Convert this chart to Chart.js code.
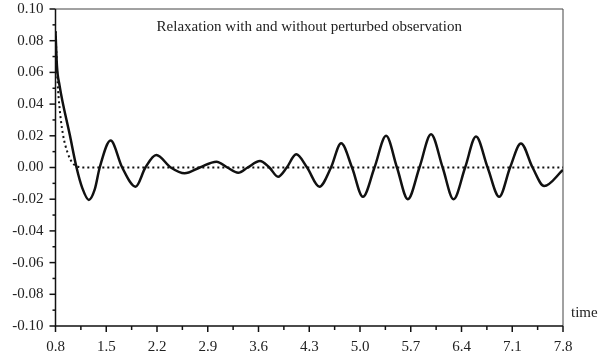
<!DOCTYPE html>
<html>
<head>
<meta charset="utf-8">
<script src="https://cdn.jsdelivr.net/npm/chart.js@4.4.0/dist/chart.umd.min.js"></script>
<style>
  html, body { margin: 0; padding: 0; background: #fff; }
</style>
</head>
<body>
<canvas id="myChart" width="606" height="358"></canvas>
<script>
// solid: relaxation with perturbed observation
const solidT = [0.80, 0.82, 0.855, 1.00, 1.09, 1.17, 1.26, 1.34, 1.41, 1.56, 1.72, 1.905, 2.04, 2.19, 2.39, 2.58, 2.79, 3.02, 3.17, 3.32, 3.45, 3.62, 3.75, 3.87, 3.99, 4.12, 4.27, 4.44, 4.60, 4.74, 4.89, 5.04, 5.20, 5.36, 5.51, 5.66, 5.82, 5.98, 6.14, 6.29, 6.45, 6.60, 6.76, 6.92, 7.07, 7.22, 7.38, 7.54, 7.80];
const solidV = [0.086, 0.064, 0.052, 0.020, 0.000, -0.013, -0.0205, -0.014, 0.000, 0.017, 0.000, -0.0121, 0.000, 0.0079, 0.000, -0.0037, 0.000, 0.0037, 0.000, -0.0033, 0.000, 0.0041, 0.000, -0.0058, 0.000, 0.0083, 0.000, -0.0121, 0.000, 0.0153, 0.000, -0.0185, 0.000, 0.020, 0.000, -0.020, 0.000, 0.021, 0.000, -0.020, 0.000, 0.0195, 0.000, -0.0185, 0.000, 0.0152, 0.000, -0.0117, -0.0015];

// dotted: relaxation without perturbation
const dotT = [0.80, 0.83, 0.855, 0.90, 0.97, 1.04, 1.11, 1.20, 7.80];
const dotV = [0.086, 0.053, 0.038, 0.0216, 0.0089, 0.0026, 0.0005, 0, 0];

const xTicks = [0.8, 1.5, 2.2, 2.9, 3.6, 4.3, 5.0, 5.7, 6.4, 7.1, 7.8];
const yTicks = [-0.10, -0.08, -0.06, -0.04, -0.02, 0.00, 0.02, 0.04, 0.06, 0.08, 0.10];

const titleText = 'Relaxation with and without perturbed observation';
const xAxisName = 'time';

const serif = '"Liberation Serif", "DejaVu Serif", serif';

// axes, minor ticks, box
const axesPlugin = {
  id: 'axesPlugin',
  beforeDatasetsDraw(chart) {
    const ctx = chart.ctx;
    const a = chart.chartArea;
    const xs = chart.scales.x, ys = chart.scales.y;
    ctx.save();
    // thin box top/right
    ctx.strokeStyle = '#444';
    ctx.lineWidth = 1;
    ctx.beginPath();
    ctx.moveTo(a.left, a.top);
    ctx.lineTo(a.right, a.top);
    ctx.lineTo(a.right, a.bottom);
    ctx.stroke();
    // main axes
    ctx.strokeStyle = '#111';
    ctx.lineWidth = 1.5;
    ctx.beginPath();
    ctx.moveTo(a.left, a.top);
    ctx.lineTo(a.left, a.bottom);
    ctx.lineTo(a.right, a.bottom);
    ctx.stroke();
    // y ticks
    for (let i = 0; i < yTicks.length; i++) {
      const y = ys.getPixelForValue(yTicks[i]);
      ctx.beginPath();
      ctx.moveTo(a.left - 6, y);
      ctx.lineTo(a.left, y);
      ctx.stroke();
      if (i < yTicks.length - 1) {
        const ym = ys.getPixelForValue((yTicks[i] + yTicks[i + 1]) / 2);
        ctx.beginPath();
        ctx.moveTo(a.left - 3, ym);
        ctx.lineTo(a.left, ym);
        ctx.stroke();
      }
    }
    // x ticks
    for (let i = 0; i < xTicks.length; i++) {
      const x = xs.getPixelForValue(xTicks[i]);
      ctx.beginPath();
      ctx.moveTo(x, a.bottom);
      ctx.lineTo(x, a.bottom + 6);
      ctx.stroke();
      if (i < xTicks.length - 1) {
        const xm = xs.getPixelForValue((xTicks[i] + xTicks[i + 1]) / 2);
        ctx.beginPath();
        ctx.moveTo(xm, a.bottom);
        ctx.lineTo(xm, a.bottom + 4);
        ctx.stroke();
      }
    }
    ctx.restore();
  },
  afterDraw(chart) {
    const ctx = chart.ctx;
    const a = chart.chartArea;
    ctx.save();
    ctx.fillStyle = '#222';
    ctx.font = '15px ' + serif;
    ctx.textAlign = 'center';
    ctx.textBaseline = 'middle';
    ctx.fillText(titleText, (a.left + a.right) / 2, a.top + 18);
    ctx.textAlign = 'left';
    ctx.fillText(xAxisName, a.right + 8, a.bottom - 13);
    ctx.restore();
  }
};

const myChart = new Chart(document.getElementById('myChart'), {
  type: 'line',
  data: {
    datasets: [
      {
        label: 'without',
        data: dotT.map((t, i) => ({ x: t, y: dotV[i] })),
        borderColor: '#111',
        borderWidth: 2,
        borderDash: [2, 3],
        borderCapStyle: 'butt',
        pointRadius: 0,
        cubicInterpolationMode: 'monotone',
        fill: false
      },
      {
        label: 'with',
        data: solidT.map((t, i) => ({ x: t, y: solidV[i] })),
        borderColor: '#111',
        borderWidth: 2.5,
        pointRadius: 0,
        cubicInterpolationMode: 'monotone',
        fill: false
      }
    ]
  },
  options: {
    responsive: false,
    animation: false,
    layout: { padding: { left: 0, right: 43, top: 9, bottom: 0 } },
    plugins: {
      legend: { display: false },
      tooltip: { enabled: false },
      title: { display: false }
    },
    scales: {
      x: {
        type: 'linear',
        min: 0.8,
        max: 7.8,
        afterBuildTicks: (scale) => { scale.ticks = xTicks.map(v => ({ value: v })); },
        afterFit: (scale) => { scale.height = 32; },
        grid: { display: false, drawTicks: false },
        border: { display: false },
        ticks: {
          padding: 12,
          maxRotation: 0,
          autoSkip: false,
          color: '#222',
          font: { family: serif, size: 15 },
          callback: (v) => Number(v).toFixed(1)
        }
      },
      y: {
        type: 'linear',
        min: -0.10,
        max: 0.10,
        afterBuildTicks: (scale) => { scale.ticks = yTicks.map(v => ({ value: v })); },
        afterFit: (scale) => {
          scale.width = 55.5;
          scale.paddingTop = 0;
          scale.paddingBottom = 0;
        },
        grid: { display: false, drawTicks: false },
        border: { display: false },
        ticks: {
          padding: 12,
          autoSkip: false,
          color: '#222',
          font: { family: serif, size: 15 },
          callback: (v) => Number(v).toFixed(2)
        }
      }
    }
  },
  plugins: [axesPlugin]
});
</script>
</body>
</html>
